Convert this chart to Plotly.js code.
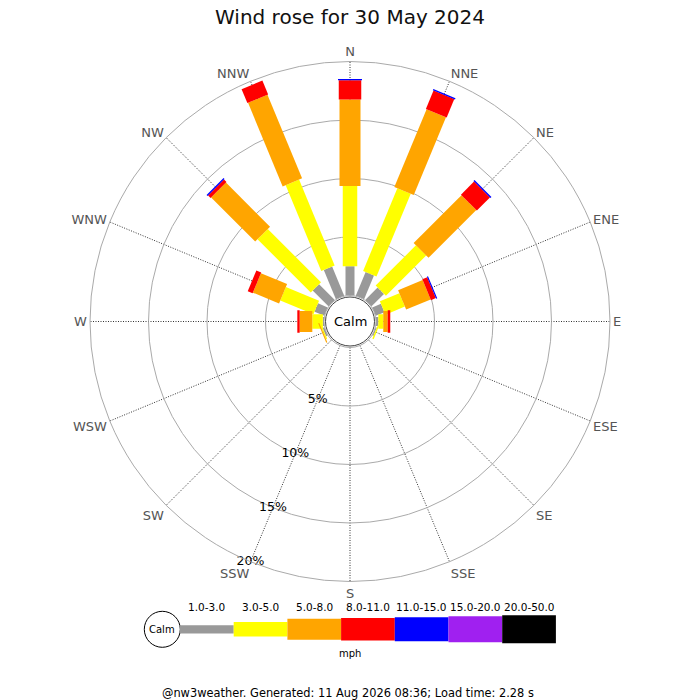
<!DOCTYPE html>
<html>
<head>
<meta charset="utf-8">
<script src="https://cdn.plot.ly/plotly-3.0.1.min.js"></script>
<style>html,body{margin:0;padding:0;background:#fff;}#chart{width:700px;height:700px;}</style>
</head>
<body>
<div id="chart"></div>
<script>
// Directions (compass order)
const dirs = ['N','NNE','NE','ENE','E','ESE','SE','SSE','S','SSW','SW','WSW','W','WNW','NW','NNW'];
// Speed bins (mph)
const bins = ['1.0-3.0','3.0-5.0','5.0-8.0','8.0-11.0','11.0-15.0','15.0-20.0','20.0-50.0'];
// Frequency (%) per direction for each speed bin
const s1_3   = [2.5, 2.2, 1.5, 0.8, 0.2, 0.1, 0, 0, 0, 0, 0, 0.15, 0.1, 0.9, 1.9, 2.7];
const s3_5   = [6.85, 7.65, 4.87, 1.8, 0.42, 0.12, 0, 0, 0, 0, 0, 0.1, 0.9, 3.07, 6.44, 7.95];
const s5_8   = [7.4, 7.2, 5.78, 2.27, 0.38, 0, 0, 0, 0, 0, 0, 0.1, 1.08, 2.42, 5.33, 7.73];
const s8_11  = [1.65, 1.7, 1.58, 0.45, 0.22, 0, 0, 0, 0, 0, 0, 0, 0.2, 0.45, 0.3, 1.29];
const s11_15 = [0.1, 0.12, 0.12, 0.1, 0, 0, 0, 0, 0, 0, 0, 0, 0, 0, 0.12, 0];
const s15_20 = [0, 0, 0, 0, 0, 0, 0, 0, 0, 0, 0, 0, 0, 0, 0, 0];
const s20_50 = [0, 0, 0, 0, 0, 0, 0, 0, 0, 0, 0, 0, 0, 0, 0, 0];
// Radial tick labels
const radialTicks = [5, 10, 15, 20];
const radialTickText = ['5%', '10%', '15%', '20%'];
const calmLabel = 'Calm';
const unitLabel = 'mph';
const titleText = 'Wind rose for 30 May 2024';
const footerText = '@nw3weather. Generated: 11 Aug 2026 08:36; Load time: 2.28 s';

// Styles
const series = [s1_3, s3_5, s5_8, s8_11, s11_15, s15_20, s20_50];
const colors = ['#999999', '#ffff00', '#ffa500', '#ff0000', '#0000ff', '#a020f0', '#000000'];
const barPx = [9, 14.5, 21, 22.5, 24, 26, 28];
const FONT = 'DejaVu Sans, Verdana, sans-serif';

// Build stacked radial segments
const traces = [];
const cum = dirs.map(() => 0);
series.forEach((vals, i) => {
  const r = [], th = [];
  vals.forEach((v, d) => {
    if (v > 0) {
      r.push(cum[d], cum[d] + v, null);
      th.push(dirs[d], dirs[d], dirs[d]);
    }
    cum[d] += v;
  });
  if (r.length) {
    traces.push({
      type: 'scatterpolar', mode: 'lines', r: r, theta: th,
      line: {color: colors[i], width: barPx[i]},
      connectgaps: false, hoverinfo: 'skip', showlegend: false
    });
  }
});
// radial tick labels along SSW
traces.push({
  type: 'scatterpolar', mode: 'text',
  r: radialTicks, theta: radialTicks.map(() => 'SSW'),
  text: radialTickText, textposition: 'middle center',
  textfont: {family: FONT, size: 12.5, color: '#000'},
  hoverinfo: 'skip', showlegend: false
});

// Geometry of page
const W = 700, H = 700;
const cx = 350, cy = 321.5, R = 260;
const px = x => x / W, py = y => 1 - y / H;

const shapes = [];
const annotations = [];
// calm circle at centre
shapes.push({type: 'circle', xref: 'paper', yref: 'paper', layer: 'above',
  x0: px(cx - 24.5), x1: px(cx + 24.5), y0: py(cy + 24.5), y1: py(cy - 24.5),
  fillcolor: '#ffffff', line: {color: '#444', width: 1}});
annotations.push({xref: 'paper', yref: 'paper', x: px(cx), y: py(cy), text: calmLabel,
  showarrow: false, xanchor: 'center', yanchor: 'middle', font: {family: FONT, size: 13, color: '#000'}});

// Legend
const legY = 629.3, legX0 = 180, segW = 53.7;
shapes.push({type: 'circle', xref: 'paper', yref: 'paper', layer: 'above',
  x0: px(162.3 - 18), x1: px(162.3 + 18), y0: py(legY + 18), y1: py(legY - 18),
  fillcolor: '#ffffff', line: {color: '#000', width: 1}});
annotations.push({xref: 'paper', yref: 'paper', x: px(162.3), y: py(legY), text: calmLabel,
  showarrow: false, xanchor: 'center', yanchor: 'middle', font: {family: FONT, size: 10, color: '#000'}});
bins.forEach((b, i) => {
  const x0 = legX0 + i * segW, x1 = x0 + segW, h = barPx[i] * (i === 0 ? 0.92 : 1.0);
  shapes.push({type: 'rect', xref: 'paper', yref: 'paper', layer: 'above',
    x0: px(x0), x1: px(x1), y0: py(legY + h / 2), y1: py(legY - h / 2),
    fillcolor: colors[i], line: {width: 0}});
  annotations.push({xref: 'paper', yref: 'paper', x: px((x0 + x1) / 2), y: py(607.3), text: b,
    showarrow: false, xanchor: 'center', yanchor: 'middle', font: {family: FONT, size: 10.5, color: '#000'}});
});
annotations.push({xref: 'paper', yref: 'paper', x: px(350), y: py(653.5), text: unitLabel,
  showarrow: false, xanchor: 'center', yanchor: 'middle', font: {family: FONT, size: 10, color: '#000'}});
annotations.push({xref: 'paper', yref: 'paper', x: px(348), y: py(692.5), text: footerText,
  showarrow: false, xanchor: 'center', yanchor: 'middle', font: {family: FONT, size: 11.4, color: '#000'}});

const layout = {
  width: W, height: H,
  margin: {l: 0, r: 0, t: 0, b: 0},
  paper_bgcolor: '#ffffff',
  font: {family: FONT},
  showlegend: false,
  hovermode: false,
  title: {text: titleText, x: 0.5, xanchor: 'center', xref: 'paper', y: py(17), yanchor: 'middle', yref: 'container',
    font: {family: FONT, size: 20, color: '#111'}},
  polar: {
    domain: {x: [px(cx - R), px(cx + R)], y: [py(cy + R), py(cy - R)]},
    hole: 0.1,
    bgcolor: '#ffffff',
    radialaxis: {range: [0, 20], tickvals: radialTicks, showticklabels: false, ticks: '',
      showline: false, gridcolor: '#aaaaaa', gridwidth: 1},
    angularaxis: {type: 'category', categoryorder: 'array', categoryarray: dirs,
      rotation: 90, direction: 'clockwise', ticks: '',
      showline: true, linecolor: '#aaaaaa', linewidth: 1,
      gridcolor: '#333333', gridwidth: 1, griddash: '1px,1.5px',
      tickfont: {family: FONT, size: 13, color: '#555555'}}
  },
  shapes: shapes,
  annotations: annotations
};

Plotly.newPlot('chart', traces, layout, {displayModeBar: false, staticPlot: true});
</script>
</body>
</html>
